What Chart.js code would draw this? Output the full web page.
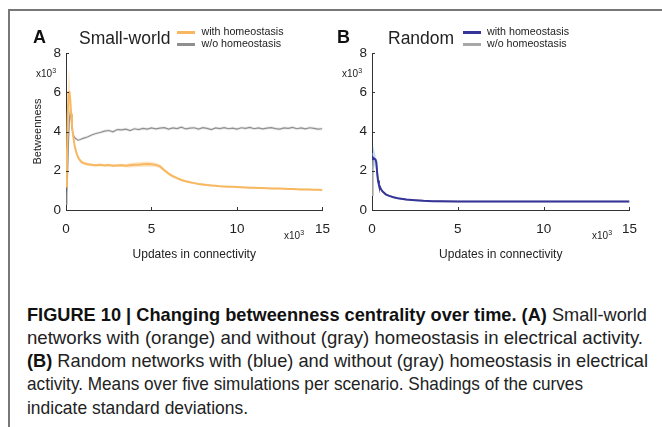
<!DOCTYPE html>
<html>
<head>
<meta charset="utf-8">
<script src="https://cdn.jsdelivr.net/npm/chart.js@4.4.0/dist/chart.umd.min.js"></script>
<style>
  body { margin: 0; background: #fff; width: 662px; height: 427px; overflow: hidden; position: relative;
         font-family: "Liberation Sans", Arial, sans-serif; color: #222; }
  .abs { position: absolute; white-space: nowrap; }
  #frame { position: absolute; left: 8px; top: 9px; width: 700px; height: 500px;
           border-left: 2px solid #777; border-top: 2px solid #777; }
  .letter { font-weight: bold; font-size: 18px; line-height: 18px; color: #111; }
  .ptitle { font-size: 17.5px; line-height: 17.5px; color: #222; }
  .leg { font-size: 10.7px; line-height: 10.7px; color: #222; }
  .swatch { position: absolute; height: 3px; width: 18px; }
  .mult { font-size: 10px; line-height: 10px; color: #222; }
  .mult sup { font-size: 7px; vertical-align: 4px; line-height: 0; }
  canvas { position: absolute; top: 0; }
  #caption { position: absolute; left: 27px; top: 302.7px; font-family: "Liberation Sans", Arial, sans-serif;
             font-size: 18.5px; line-height: 23.2px; color: #222; white-space: nowrap; }
  #caption .cl { display: block; width: max-content; transform-origin: 0 0; }
  #caption b { color: #111; }
</style>
</head>
<body>
<div id="frame"></div>

<canvas id="chartA" width="341" height="270" style="left:0px"></canvas>
<canvas id="chartB" width="342" height="270" style="left:306px"></canvas>

<div class="abs letter" style="left:33px;top:27.5px">A</div>
<div class="abs ptitle" style="left:79px;top:30.2px">Small-world</div>
<div class="swatch" style="left:177px;top:30.5px;background:#f8b862"></div>
<div class="swatch" style="left:177px;top:42.5px;background:#8f8f8f"></div>
<div class="abs leg" style="left:201.5px;top:26.2px">with homeostasis</div>
<div class="abs leg" style="left:201.5px;top:38.2px">w/o homeostasis</div>
<div class="abs mult" style="left:36px;top:69px">x10<sup>3</sup></div>
<div class="abs mult" style="left:284px;top:231px">x10<sup>3</sup></div>

<div class="abs letter" style="left:337px;top:27.5px">B</div>
<div class="abs ptitle" style="left:388px;top:30.2px">Random</div>
<div class="swatch" style="left:463px;top:30.5px;background:#35359a"></div>
<div class="swatch" style="left:463px;top:42.5px;background:#a8a8a8"></div>
<div class="abs leg" style="left:487px;top:26.2px">with homeostasis</div>
<div class="abs leg" style="left:487px;top:38.2px">w/o homeostasis</div>
<div class="abs mult" style="left:342px;top:69px">x10<sup>3</sup></div>
<div class="abs mult" style="left:592px;top:231px">x10<sup>3</sup></div>

<div id="caption">
  <span class="cl"><b>FIGURE 10 | Changing betweenness centrality over time. (A)</b> Small-world</span>
  <span class="cl">networks with (orange) and without (gray) homeostasis in electrical activity.</span>
  <span class="cl"><b>(B)</b> Random networks with (blue) and without (gray) homeostasis in electrical</span>
  <span class="cl">activity. Means over five simulations per scenario. Shadings of the curves</span>
  <span class="cl">indicate standard deviations.</span>
</div>

<script>
// updates in connectivity (x10^3)
const updatesA = [0, 0.05, 0.1, 0.15, 0.2, 0.25, 0.3, 0.35, 0.4, 0.5, 0.6, 0.7, 0.8, 0.9, 1.0,
  1.25, 1.5, 1.75, 2.0, 2.25, 2.5, 2.75, 3.0, 3.25, 3.5, 3.75, 4.0, 4.25, 4.5, 4.75, 5.0,
  5.25, 5.5, 5.75, 6.0, 6.25, 6.5, 6.75, 7.0, 7.25, 7.5, 7.75, 8.0, 8.25, 8.5, 8.75, 9.0,
  9.25, 9.5, 9.75, 10.0, 10.25, 10.5, 10.75, 11.0, 11.25, 11.5, 11.75, 12.0, 12.25, 12.5,
  12.75, 13.0, 13.25, 13.5, 13.75, 14.0, 14.25, 14.5, 14.75, 15.0];

// betweenness (x10^3), small-world, with homeostasis
const swWith = [1.2, 2.5, 4.8, 6.0, 6.0, 5.6, 4.9, 4.3, 3.9, 3.3, 2.95, 2.7, 2.55, 2.45, 2.4,
  2.33, 2.3, 2.28, 2.3, 2.27, 2.29, 2.26, 2.27, 2.28, 2.26, 2.28, 2.3, 2.31, 2.33, 2.34, 2.33,
  2.3, 2.22, 2.02, 1.85, 1.72, 1.62, 1.53, 1.46, 1.41, 1.37, 1.33, 1.3, 1.27, 1.25, 1.23, 1.21,
  1.2, 1.19, 1.18, 1.17, 1.16, 1.15, 1.14, 1.13, 1.12, 1.12, 1.11, 1.1, 1.09, 1.09,
  1.08, 1.07, 1.07, 1.06, 1.05, 1.05, 1.04, 1.03, 1.03, 1.02];
const swWithSd = [0.1, 0.3, 0.8, 1.2, 0.9, 0.5, 0.3, 0.2, 0.12, 0.1, 0.08, 0.08, 0.08, 0.08, 0.08,
  0.08, 0.07, 0.07, 0.07, 0.07, 0.07, 0.07, 0.07, 0.08, 0.09, 0.11, 0.12, 0.12, 0.13, 0.13, 0.12,
  0.11, 0.1, 0.09, 0.08, 0.07, 0.06, 0.06, 0.05, 0.05, 0.05, 0.05, 0.05, 0.04, 0.04, 0.04, 0.04,
  0.04, 0.04, 0.04, 0.04, 0.04, 0.04, 0.04, 0.04, 0.04, 0.04, 0.04, 0.04, 0.04, 0.04,
  0.04, 0.04, 0.04, 0.04, 0.04, 0.04, 0.04, 0.04, 0.04, 0.04];

// small-world, without homeostasis
const swWithout = [0.3, 0.8, 2.0, 3.5, 4.6, 5.0, 4.7, 4.2, 3.9, 3.7, 3.62, 3.56, 3.58, 3.62, 3.65,
  3.72, 3.82, 3.9, 3.95, 4.02, 4.05, 3.98, 4.1, 4.08, 4.12, 4.05, 4.14, 4.1, 4.16, 4.12, 4.18,
  4.13, 4.17, 4.2, 4.12, 4.18, 4.15, 4.22, 4.13, 4.17, 4.19, 4.12, 4.2, 4.16, 4.1, 4.18, 4.15,
  4.2, 4.14, 4.17, 4.12, 4.19, 4.16, 4.21, 4.14, 4.18, 4.13, 4.17, 4.2, 4.15, 4.12,
  4.18, 4.16, 4.21, 4.14, 4.18, 4.13, 4.19, 4.16, 4.12, 4.14];
const swWithoutSd = [0.1, 0.3, 0.5, 0.5, 0.4, 0.3, 0.25, 0.15, 0.1, 0.08, 0.08, 0.08, 0.08, 0.08, 0.08,
  0.08, 0.08, 0.08, 0.08, 0.08, 0.08, 0.08, 0.08, 0.08, 0.08, 0.08, 0.08, 0.08, 0.08, 0.08, 0.08,
  0.08, 0.08, 0.08, 0.08, 0.08, 0.08, 0.08, 0.08, 0.08, 0.08, 0.08, 0.08, 0.08, 0.08, 0.08, 0.08,
  0.08, 0.08, 0.08, 0.08, 0.08, 0.08, 0.08, 0.08, 0.08, 0.08, 0.08, 0.08, 0.08, 0.08,
  0.08, 0.08, 0.08, 0.08, 0.08, 0.08, 0.08, 0.08, 0.08, 0.08];

const updatesB = [0, 0.05, 0.1, 0.15, 0.2, 0.25, 0.3, 0.35, 0.4, 0.5, 0.6, 0.8, 1.0, 1.25, 1.5,
  2.0, 2.5, 3.0, 3.5, 4.0, 5, 6, 7, 8, 9, 10, 11, 12, 13, 14, 15];

// random network
const rndWith = [2.6, 2.68, 2.64, 2.6, 2.58, 2.45, 1.9, 1.5, 1.3, 1.1, 0.96, 0.8, 0.72, 0.65, 0.6,
  0.53, 0.5, 0.47, 0.45, 0.44, 0.43, 0.43, 0.43, 0.43, 0.43, 0.43, 0.43, 0.43, 0.43, 0.43, 0.43];
const rndWithSd = [0.3, 0.55, 0.55, 0.4, 0.2, 0.1, 0.05, 0.03, 0.02, 0.02, 0.02, 0.02, 0.02, 0.02, 0.02,
  0.02, 0.02, 0.02, 0.02, 0.02, 0.02, 0.02, 0.02, 0.02, 0.02, 0.02, 0.02, 0.02, 0.02, 0.02, 0.02];
const rndWithout = [0.75, 2.2, 2.6, 2.58, 2.56, 2.4, 1.88, 1.5, 1.3, 1.1, 0.96, 0.8, 0.72, 0.65, 0.6,
  0.53, 0.5, 0.47, 0.45, 0.44, 0.43, 0.43, 0.43, 0.43, 0.43, 0.43, 0.43, 0.43, 0.43, 0.43, 0.43];

const xTicks = [0, 5, 10, 15];
const yTicks = [0, 2, 4, 6, 8];

function pts(xs, ys, sd, sign) {
  return xs.map((x, i) => ({ x: x, y: sd ? ys[i] + sign * sd[i] : ys[i] }));
}

function line(data, color, width) {
  return { data: data, borderColor: color, borderWidth: width, pointRadius: 0, fill: false, tension: 0 };
}
function band(data, color, fillTo) {
  return { data: data, borderWidth: 0, borderColor: 'rgba(0,0,0,0)', backgroundColor: color,
           pointRadius: 0, fill: fillTo, tension: 0 };
}

// small inward tick marks, like the original figure
const innerTicks = {
  id: 'innerTicks',
  afterDraw(chart) {
    const ctx = chart.ctx;
    const xs = chart.scales.x, ys = chart.scales.y;
    ctx.save();
    ctx.strokeStyle = '#333';
    ctx.lineWidth = 1;
    xTicks.forEach(v => {
      const px = Math.round(xs.getPixelForValue(v)) + 0.5;
      ctx.beginPath(); ctx.moveTo(px, ys.bottom); ctx.lineTo(px, ys.bottom - 3); ctx.stroke();
    });
    yTicks.forEach(v => {
      const py = Math.round(ys.getPixelForValue(v)) + 0.5;
      ctx.beginPath(); ctx.moveTo(xs.left, py); ctx.lineTo(xs.left + 3, py); ctx.stroke();
    });
    ctx.restore();
  }
};

function makeOptions(showYTitle) {
  return {
    responsive: false,
    animation: false,
    events: [],
    layout: { padding: { top: 53, right: 2, left: 0, bottom: 0 } },
    plugins: { legend: { display: false }, tooltip: { enabled: false } },
    scales: {
      x: {
        type: 'linear', min: 0, max: 15,
        afterFit: s => { s.height = 60; },
        afterBuildTicks: s => { s.ticks = xTicks.map(v => ({ value: v })); },
        grid: { display: false, drawTicks: false },
        border: { display: true, color: '#333', width: 1 },
        ticks: { color: '#222', padding: 11, font: { family: 'Liberation Sans', size: 13.5 } },
        title: { display: true, text: 'Updates in connectivity', color: '#222',
                 font: { family: 'Liberation Sans', size: 12 }, padding: { top: 0, bottom: 8 } }
      },
      y: {
        type: 'linear', min: 0, max: 8,
        afterFit: s => { s.width = 66; },
        afterBuildTicks: s => { s.ticks = yTicks.map(v => ({ value: v })); },
        grid: { display: false, drawTicks: false },
        border: { display: true, color: '#333', width: 1 },
        ticks: { color: '#222', padding: 5, font: { family: 'Liberation Sans', size: 13.5 } },
        title: { display: showYTitle, text: 'Betweenness', color: '#222',
                 font: { family: 'Liberation Sans', size: 11 }, padding: { top: 31, bottom: 0 } }
      }
    }
  };
}

new Chart(document.getElementById('chartA'), {
  type: 'line',
  data: {
    datasets: [
      line(pts(updatesA, swWith), '#f8b862', 2),
      line(pts(updatesA, swWithout), '#8f8f8f', 1.2),
      band(pts(updatesA, swWith, swWithSd, 1), 'rgba(248,184,98,0.35)', '+1'),
      band(pts(updatesA, swWith, swWithSd, -1), 'rgba(248,184,98,0.35)', false),
      band(pts(updatesA, swWithout, swWithoutSd, 1), 'rgba(170,170,170,0.22)', '+1'),
      band(pts(updatesA, swWithout, swWithoutSd, -1), 'rgba(170,170,170,0.22)', false)
    ]
  },
  options: makeOptions(true),
  plugins: [innerTicks]
});

new Chart(document.getElementById('chartB'), {
  type: 'line',
  data: {
    datasets: [
      line(pts(updatesB, rndWith), '#35359a', 2),
      line(pts(updatesB, rndWithout), '#a8a8a8', 1.6),
      band(pts(updatesB, rndWith, rndWithSd, 1), 'rgba(140,190,240,0.5)', '+1'),
      band(pts(updatesB, rndWith, rndWithSd, -1), 'rgba(140,190,240,0.5)', false)
    ]
  },
  options: makeOptions(false),
  plugins: [innerTicks]
});

// squeeze each caption line so it wraps where the original's lines do
const captionLineWidths = [620, 616, 621, 556, 221];
document.querySelectorAll('#caption .cl').forEach((el, i) => {
  const w = el.getBoundingClientRect().width;
  el.style.transform = 'scaleX(' + (captionLineWidths[i] / w) + ')';
});
</script>
</body>
</html>
